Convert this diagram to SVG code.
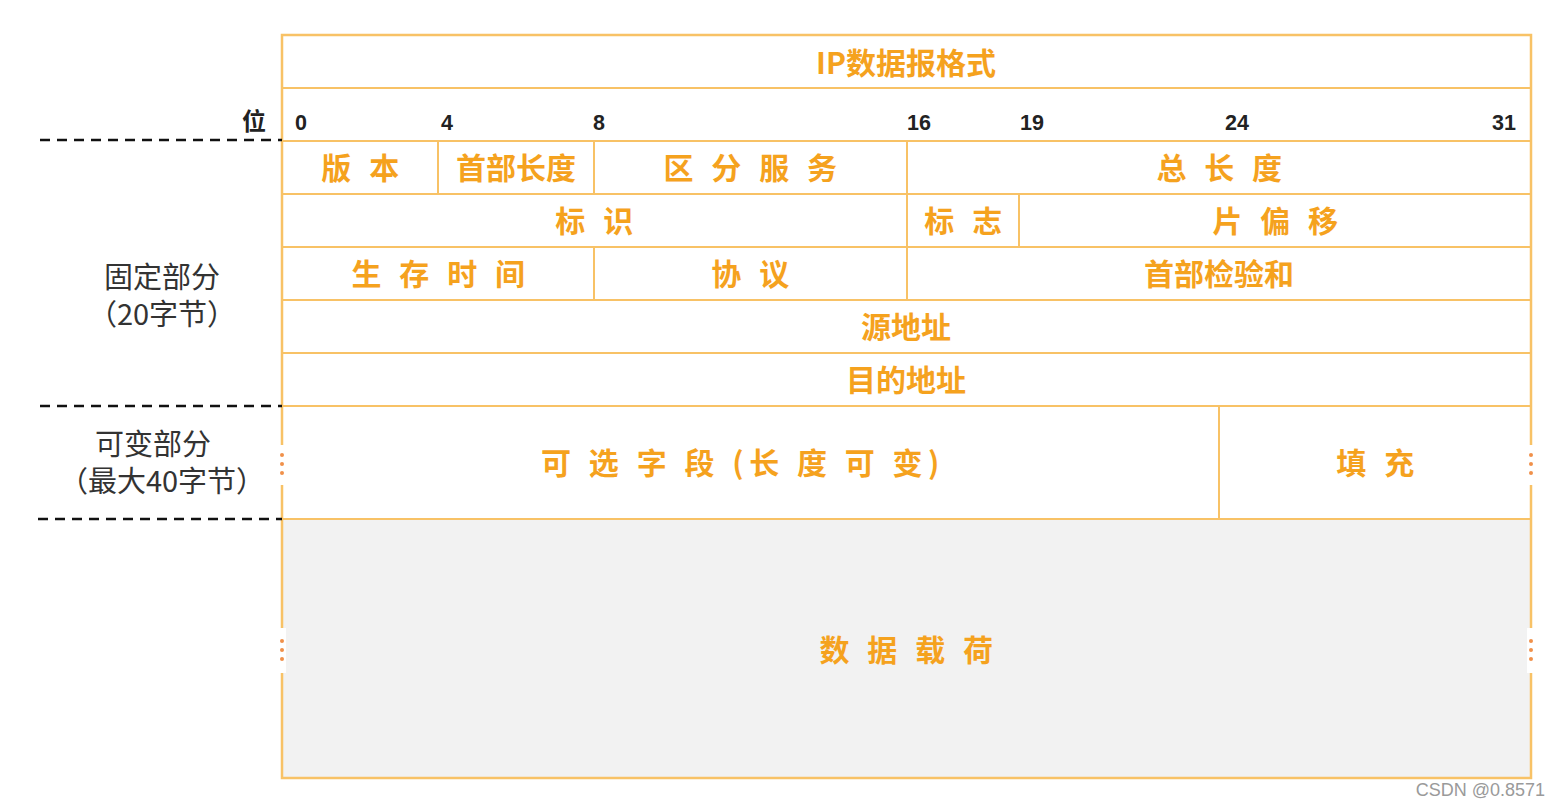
<svg xmlns="http://www.w3.org/2000/svg" width="1561" height="805" viewBox="0 0 1561 805">
<style>
.ln{stroke:#f8c266;stroke-width:2;fill:none}
.fld{font-family:"Noto Sans CJK SC","Noto Sans",sans-serif;font-size:30px;font-weight:700;fill:#f5a21e;text-anchor:middle}
.sp{letter-spacing:5.5px}
.num{font-family:"Liberation Sans",Arial,sans-serif;font-size:21.5px;font-weight:700;fill:#222}
.side{font-family:"Noto Sans CJK SC","Noto Sans",sans-serif;font-size:29px;fill:#333;text-anchor:middle}
.dash{stroke:#111;stroke-width:2.5;stroke-dasharray:10 7;fill:none}
.dot{fill:#f0904a}
.gap{fill:#fff}
</style>
<rect width="1561" height="805" fill="#fff"/>
<rect x="282" y="519" width="1249" height="259" fill="#f2f2f2"/>
<g id="grid">
<rect class="ln" x="282" y="35" width="1249" height="743" style="stroke-width:2.5"/>
<line class="ln" x1="282" y1="88" x2="1531" y2="88"/>
<line class="ln" x1="282" y1="141" x2="1531" y2="141"/>
<line class="ln" x1="282" y1="194" x2="1531" y2="194"/>
<line class="ln" x1="282" y1="247" x2="1531" y2="247"/>
<line class="ln" x1="282" y1="300" x2="1531" y2="300"/>
<line class="ln" x1="282" y1="353" x2="1531" y2="353"/>
<line class="ln" x1="282" y1="406" x2="1531" y2="406"/>
<line class="ln" x1="282" y1="519" x2="1531" y2="519"/>
<line class="ln" x1="438" y1="141" x2="438" y2="194"/>
<line class="ln" x1="594" y1="141" x2="594" y2="194"/>
<line class="ln" x1="907" y1="141" x2="907" y2="194"/>
<line class="ln" x1="907" y1="194" x2="907" y2="247"/>
<line class="ln" x1="1019" y1="194" x2="1019" y2="247"/>
<line class="ln" x1="594" y1="247" x2="594" y2="300"/>
<line class="ln" x1="907" y1="247" x2="907" y2="300"/>
<line class="ln" x1="1219" y1="406" x2="1219" y2="519"/>
</g>
<g id="breaks">
<rect class="gap" x="278" y="445" width="8" height="40"/>
<rect class="gap" x="1527" y="445" width="8" height="40"/>
<rect class="gap" x="278" y="628" width="8" height="45"/>
<rect class="gap" x="1527" y="628" width="8" height="45"/>
<circle class="dot" cx="282" cy="455" r="2"/><circle class="dot" cx="282" cy="464" r="2"/><circle class="dot" cx="282" cy="473" r="2"/>
<circle class="dot" cx="1531" cy="455" r="2"/><circle class="dot" cx="1531" cy="464" r="2"/><circle class="dot" cx="1531" cy="473" r="2"/>
<circle class="dot" cx="282" cy="641" r="2"/><circle class="dot" cx="282" cy="650" r="2"/><circle class="dot" cx="282" cy="659" r="2"/>
<circle class="dot" cx="1531" cy="641" r="2"/><circle class="dot" cx="1531" cy="650" r="2"/><circle class="dot" cx="1531" cy="659" r="2"/>
</g>
<g id="connectors">
<line class="dash" x1="40" y1="140" x2="282" y2="140"/>
<line class="dash" x1="40" y1="406" x2="282" y2="406"/>
<line class="dash" x1="38" y1="519" x2="282" y2="519"/>
</g>
<g id="title"><text class="fld" x="906" y="74">IP数据报格式</text></g>
<g id="bits">
<text class="side" x="254" y="130" style="font-size:24px;font-weight:700;fill:#222">位</text>
<text class="num" x="295" y="130">0</text>
<text class="num" x="441" y="130">4</text>
<text class="num" x="593" y="130">8</text>
<text class="num" x="907" y="130">16</text>
<text class="num" x="1020" y="130">19</text>
<text class="num" x="1225" y="130">24</text>
<text class="num" x="1492" y="130">31</text>
</g>
<g id="version"><text class="fld sp" x="363" y="179">版 本</text></g>
<g id="ihl"><text class="fld" x="516" y="179">首部长度</text></g>
<g id="tos"><text class="fld sp" x="753" y="179">区 分 服 务</text></g>
<g id="total-length"><text class="fld sp" x="1222" y="179">总 长 度</text></g>
<g id="identification"><text class="fld sp" x="597" y="232">标 识</text></g>
<g id="flags"><text class="fld sp" x="966" y="232">标 志</text></g>
<g id="fragment-offset"><text class="fld sp" x="1278" y="232">片 偏 移</text></g>
<g id="ttl"><text class="fld sp" x="441" y="285">生 存 时 间</text></g>
<g id="protocol"><text class="fld sp" x="753" y="285">协 议</text></g>
<g id="checksum"><text class="fld" x="1219" y="285">首部检验和</text></g>
<g id="src"><text class="fld" x="906" y="338">源地址</text></g>
<g id="dst"><text class="fld" x="906" y="391">目的地址</text></g>
<g id="options"><text class="fld sp" x="743" y="474">可 选 字 段 (长 度 可 变)</text></g>
<g id="padding"><text class="fld sp" x="1378" y="474">填 充</text></g>
<g id="payload"><text class="fld sp" x="909" y="661">数 据 载 荷</text></g>
<g id="fixed-label">
<text class="side"><tspan x="162" y="288">固定部分</tspan><tspan x="162" y="325">（20字节）</tspan></text>
</g>
<g id="variable-label">
<text class="side"><tspan x="153" y="455">可变部分</tspan><tspan x="162" y="492">（最大40字节）</tspan></text>
</g>
<text x="1545" y="796" text-anchor="end" style="font-family:'Liberation Sans',Arial,sans-serif;font-size:18px;fill:#9a9a9a">CSDN @0.8571</text>
</svg>
